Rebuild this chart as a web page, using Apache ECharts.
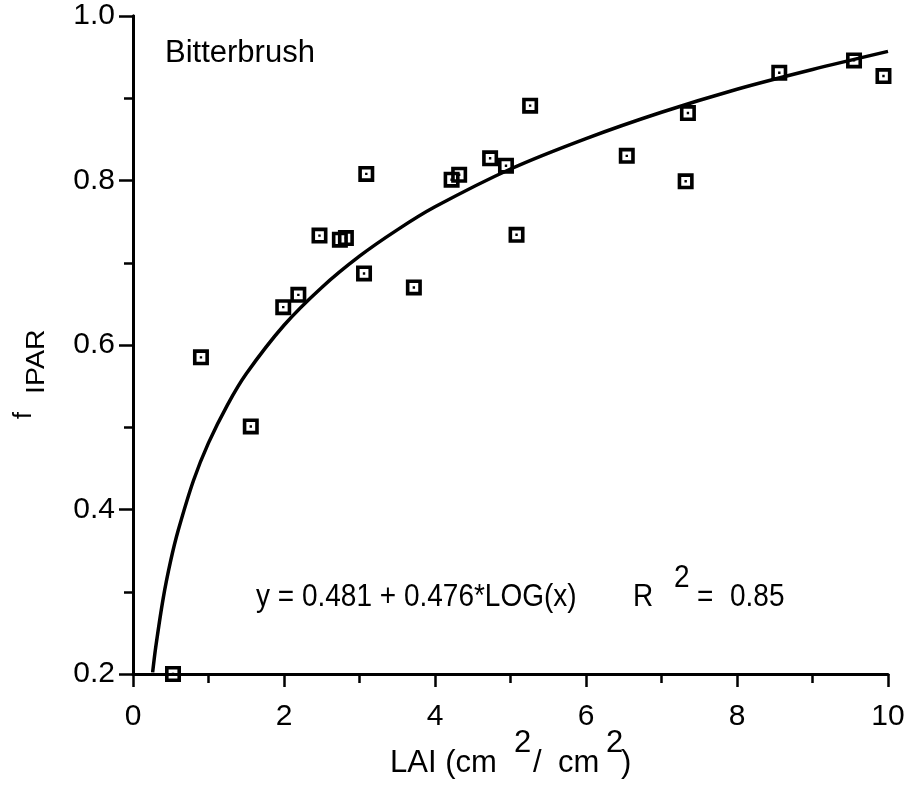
<!DOCTYPE html>
<html><head><meta charset="utf-8">
<script src="https://cdn.jsdelivr.net/npm/echarts@6/dist/echarts.min.js"></script>
<style>html,body{margin:0;padding:0;background:#fff}#c{width:913px;height:795px}</style>
</head><body><div id="c"></div>
<script>
// observed points (LAI, fIPAR)
const obsLAI  = [0.53,0.90,1.56,1.99,2.19,2.47,2.74,2.82,3.06,3.09,3.72,4.22,4.32,4.73,4.94,5.08,5.26,6.54,7.32,7.35,8.56,9.55,9.94];
const obsF    = [0.200,0.585,0.501,0.646,0.661,0.733,0.728,0.730,0.687,0.808,0.670,0.801,0.807,0.827,0.818,0.734,0.891,0.830,0.799,0.882,0.931,0.946,0.927];
// fitted curve
const fitLAI  = [0.26,0.3,0.4,0.5,0.6,0.8,1,1.25,1.5,2,2.5,3,3.5,4,5,6,7,8,9,10];
const fitF    = [0.202,0.232,0.292,0.338,0.375,0.435,0.481,0.527,0.565,0.624,0.670,0.708,0.740,0.768,0.814,0.851,0.883,0.911,0.935,0.957];
const xTicks  = [0,2,4,6,8,10];
const yTicks  = [0.2,0.4,0.6,0.8,1.0];

const chart = echarts.init(document.getElementById('c'));
const font = 'Liberation Sans, Arial, sans-serif';
const marker = 'path://M0,0H16V16H0Z M3.6,3.6V12.4H12.4V3.6Z M6.8,6.8H9.2V9.2H6.8Z';
function txt(text, x, y, size, extra){
  return Object.assign({type:'text',x:x,y:y,style:{text:text,font:size+'px '+font,fill:'#000',verticalAlign:'top'}}, extra||{});
}
chart.setOption({
  animation:false,
  backgroundColor:'#fff',
  grid:{left:133,right:25,top:16,bottom:121},
  xAxis:[{
    type:'value',min:0,max:10,interval:2,
    axisLine:{lineStyle:{color:'#000',width:3}},
    axisTick:{length:13,lineStyle:{color:'#000',width:2.5}},
    minorTick:{show:true,splitNumber:2,length:9,lineStyle:{color:'#000',width:2.5}},
    splitLine:{show:false},
    axisLabel:{color:'#000',fontSize:30,fontFamily:font,margin:28,formatter:v=>xTicks.includes(v)?String(v):''}
  }],
  yAxis:[{
    type:'value',min:0.2,max:1.0,interval:0.2,
    axisLine:{onZero:false,lineStyle:{color:'#000',width:3}},
    axisTick:{length:14,lineStyle:{color:'#000',width:2.5}},
    minorTick:{show:true,splitNumber:2,length:9,lineStyle:{color:'#000',width:2.5}},
    splitLine:{show:false},
    axisLabel:{color:'#000',fontSize:30,fontFamily:font,margin:18,formatter:v=>yTicks.some(t=>Math.abs(t-v)<1e-9)?v.toFixed(1):''}
  },{
    type:'value',min:0.2,max:1.0,interval:0.2,position:'right',
    axisLine:{show:true,lineStyle:{color:'#000',width:3}},
    axisTick:{show:false},axisLabel:{show:false},splitLine:{show:false}
  }],
  series:[{
    type:'line',data:fitLAI.map((x,i)=>[x,fitF[i]]),
    showSymbol:false,smooth:0.3,lineStyle:{color:'#000',width:3.5},z:2
  },{
    type:'scatter',data:obsLAI.map((x,i)=>[x,obsF[i]]),
    symbol:marker,symbolSize:16,itemStyle:{color:'#000',opacity:1},z:3
  }],
  graphic:[
    txt('Bitterbrush',165,38,31),
    txt('y = 0.481 + 0.476*LOG(x)',256,582,28,{scaleY:1.1}),
    txt('R',633,582,28,{scaleY:1.1}),
    txt('2',674,563,28,{scaleY:1.1}),
    txt('=',697,582,28,{scaleY:1.1}),
    txt('0.85',730,582,28,{scaleY:1.1}),
    txt('LAI (cm',390,748,31),
    txt('2',514,728,31),
    txt('/',533,748,31),
    txt('cm',558,748,31),
    txt('2',606,728,31),
    txt(')',621,748,31),
    {type:'text',x:37,y:419,rotation:Math.PI/2,style:{text:'f',font:'25px '+font,fill:'#000',align:'left',verticalAlign:'bottom'}},
    {type:'text',x:50,y:394,rotation:Math.PI/2,scaleX:1.1,style:{text:'IPAR',font:'26px '+font,fill:'#000',align:'left',verticalAlign:'bottom'}}
  ]
});
</script></body></html>
